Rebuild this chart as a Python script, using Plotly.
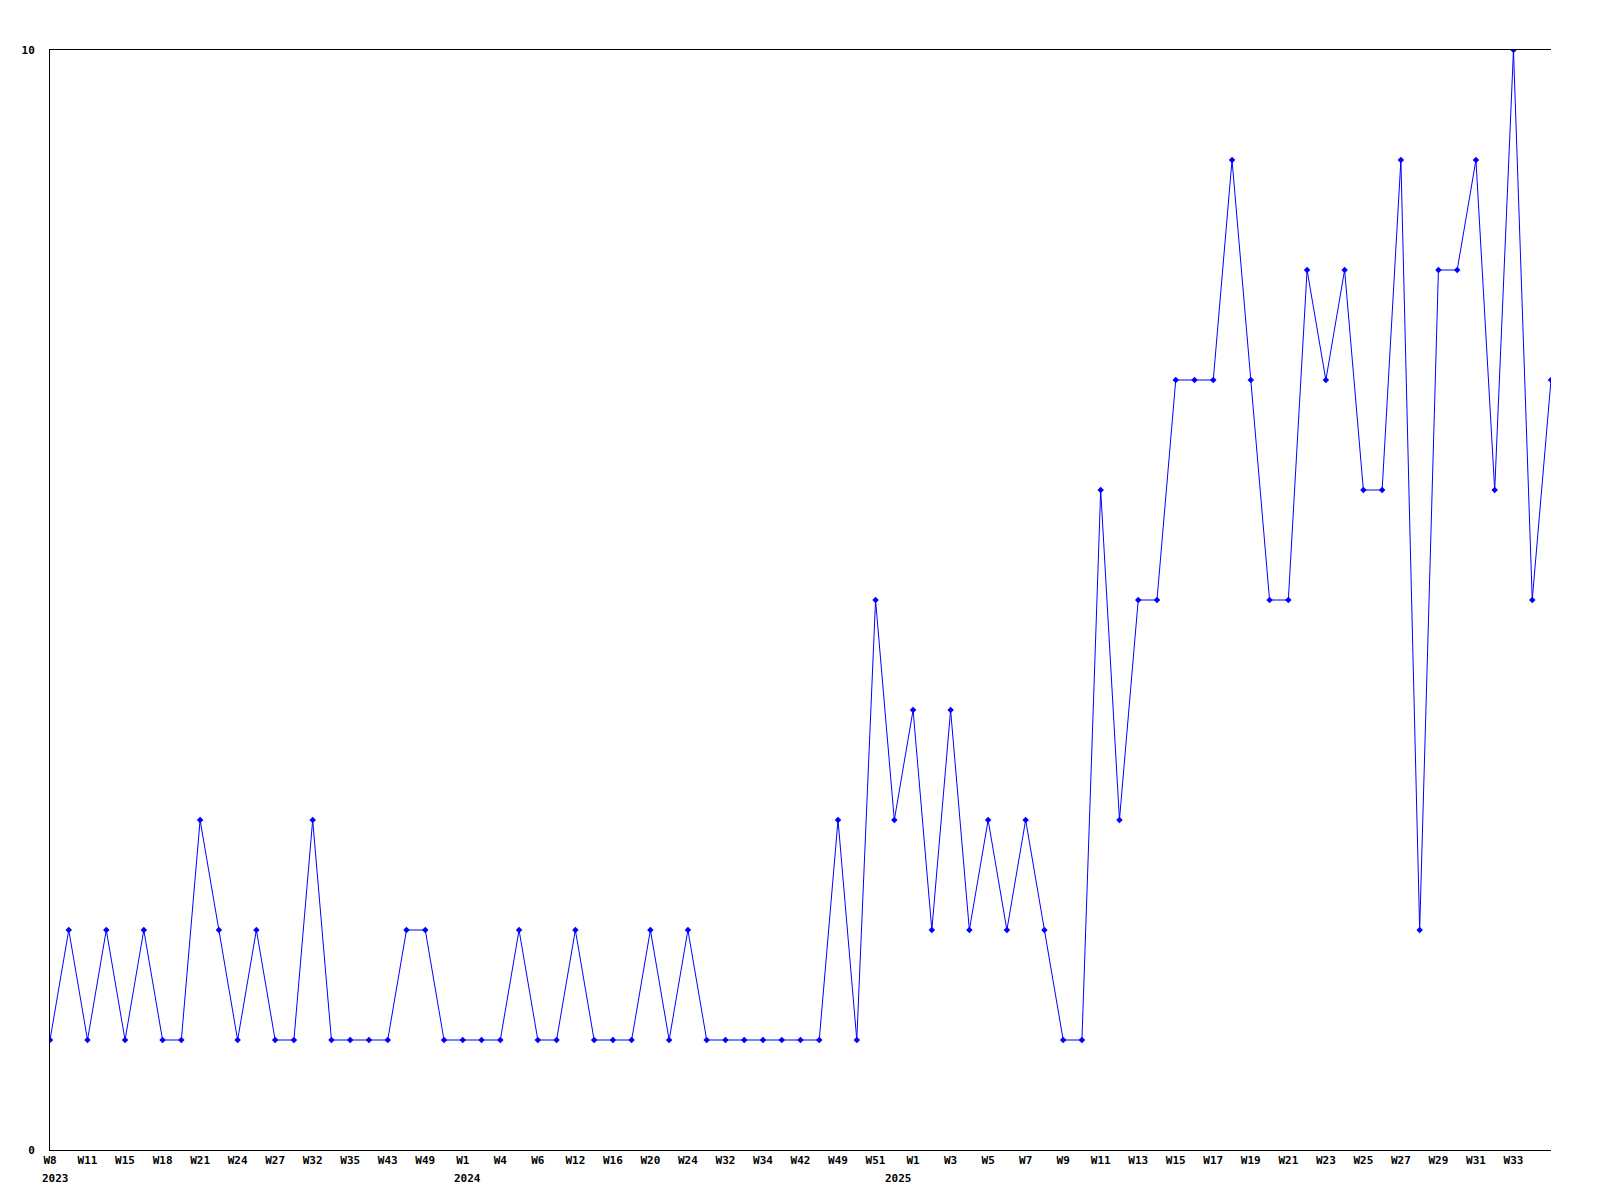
import plotly.graph_objects as go

weeks = [
    "2023-W08", "2023-W09", "2023-W11", "2023-W13", "2023-W15", "2023-W16", "2023-W18", "2023-W19",
    "2023-W21", "2023-W22", "2023-W24", "2023-W25", "2023-W27", "2023-W30", "2023-W32", "2023-W33",
    "2023-W35", "2023-W40", "2023-W43", "2023-W46", "2023-W49", "2023-W51",
    "2024-W01", "2024-W02", "2024-W04", "2024-W05", "2024-W06", "2024-W09", "2024-W12", "2024-W14",
    "2024-W16", "2024-W18", "2024-W20", "2024-W22", "2024-W24", "2024-W28", "2024-W32", "2024-W33",
    "2024-W34", "2024-W38", "2024-W42", "2024-W45", "2024-W49", "2024-W50", "2024-W51", "2024-W52",
    "2025-W01", "2025-W02", "2025-W03", "2025-W04", "2025-W05", "2025-W06", "2025-W07", "2025-W08",
    "2025-W09", "2025-W10", "2025-W11", "2025-W12", "2025-W13", "2025-W14", "2025-W15", "2025-W16",
    "2025-W17", "2025-W18", "2025-W19", "2025-W20", "2025-W21", "2025-W22", "2025-W23", "2025-W24",
    "2025-W25", "2025-W26", "2025-W27", "2025-W28", "2025-W29", "2025-W30", "2025-W31", "2025-W32",
    "2025-W33", "2025-W34", "2025-W35",
]

values = [
    1, 2, 1, 2, 1, 2, 1, 1, 3, 2, 1, 2, 1, 1, 3, 1, 1, 1, 1, 2, 2,
    1, 1, 1, 1, 2, 1, 1, 2, 1, 1, 1, 2, 1, 2, 1, 1, 1, 1, 1, 1, 1,
    3, 1, 5, 3, 4, 2, 4, 2, 3, 2, 3, 2, 1, 1, 6, 3, 5, 5, 7, 7, 7,
    9, 7, 5, 5, 8, 7, 8, 6, 6, 9, 2, 8, 8, 9, 6, 10, 5, 7,
]

tick_weeks = weeks[0:80:2]
tick_labels = [w.split("-")[1].replace("W0", "W") for w in tick_weeks]
year_starts = ["2023-W08", "2024-W01", "2025-W01"]
year_labels = ["2023", "2024", "2025"]
year_label_shifts = [-10, -11, -30]

FONT = dict(family="DejaVu Sans Mono", size=11, color="black", weight="bold")

fig = go.Figure()
fig.add_trace(go.Scatter(
    x=weeks, y=values, mode="lines+markers",
    line=dict(color="#0000ff", width=1),
    marker=dict(symbol="diamond", size=5, color="#0000ff"),
    hoverinfo="x+y",
))

for w, yl, sh in zip(year_starts, year_labels, year_label_shifts):
    fig.add_annotation(
        x=w, xref="x", y=0, yref="paper", text=yl, showarrow=False,
        xanchor="left", yanchor="top", xshift=sh, yshift=-20, font=FONT,
    )

fig.update_layout(
    width=1600, height=1200,
    margin=dict(l=50, r=49, t=50, b=50),
    paper_bgcolor="white", plot_bgcolor="white",
    showlegend=False,
    xaxis=dict(
        type="category", categoryorder="array", categoryarray=weeks,
        range=[0, len(weeks) - 1],
        tickvals=tick_weeks, ticktext=tick_labels,
        showgrid=False, zeroline=False, showline=True, linecolor="black",
        linewidth=1, mirror=True, ticks="", tickfont=FONT, tickangle=0,
    ),
    yaxis=dict(
        range=[0, 10], tickvals=[0, 10], ticktext=["0", "10"],
        showgrid=False, zeroline=False, showline=True, linecolor="black",
        linewidth=1, ticks="", tickfont=FONT, ticklabelstandoff=12,
    ),
)

fig.write_html(
    "out.html",
    config={"displayModeBar": False},
    post_script="document.body.style.margin='0';document.body.style.overflow='hidden';",
)
